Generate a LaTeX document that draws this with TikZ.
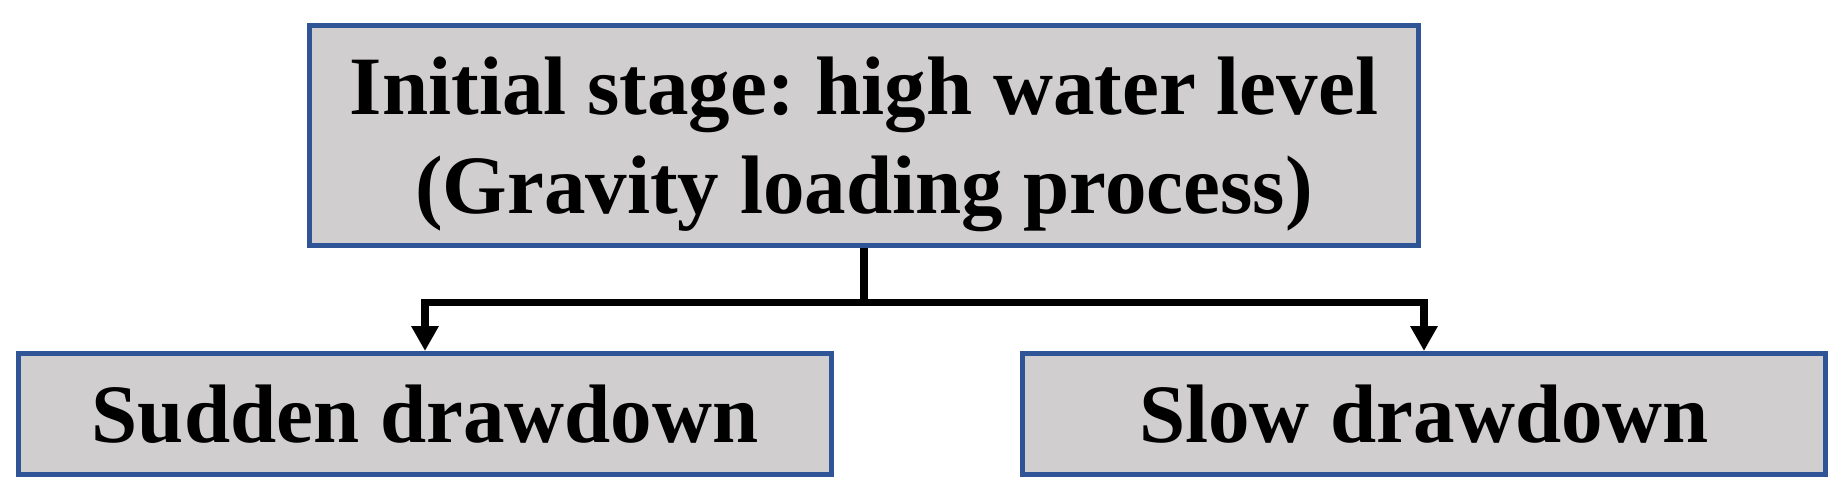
\documentclass[tikz,border=0pt]{standalone}
\usepackage{fontspec}
\setmainfont{Liberation Serif}
\usepackage{tikz}
\usetikzlibrary{arrows.meta,positioning}
\definecolor{stagefill}{RGB}{208,206,206}
\definecolor{stageline}{RGB}{47,85,151}
\frenchspacing

\begin{document}
\begin{tikzpicture}[x=0.5pt,y=0.5pt,
    stage/.style={draw=stageline,fill=stagefill,line width=2.5pt,inner sep=0pt,align=center,
      font=\fontsize{41.5}{49.5}\selectfont\bfseries},
    conn/.style={line width=3.75pt},
    >={Triangle[width=13pt,length=12.5pt]}]
  \useasboundingbox[fill=white] (0,0) rectangle (1848,-495);
  \node[stage,minimum width=554.5pt,minimum height=110pt] (init) at (864,-135.5)
    {\rule{0pt}{38pt}Initial stage: high water level\\(Gravity loading process)};
  \node[stage,minimum width=406.5pt,minimum height=60.5pt] (sudden) at (425,-414) {Sudden drawdown};
  \node[stage,minimum width=401.5pt,minimum height=60.5pt] (slow) at (1424,-414) {Slow drawdown};
  \draw[conn] (init.south) -- ++(0,-54.5) coordinate (fork);
  \draw[conn,->] (fork) -| (sudden.north);
  \draw[conn,->] (fork) -| (slow.north);
\end{tikzpicture}
\end{document}
